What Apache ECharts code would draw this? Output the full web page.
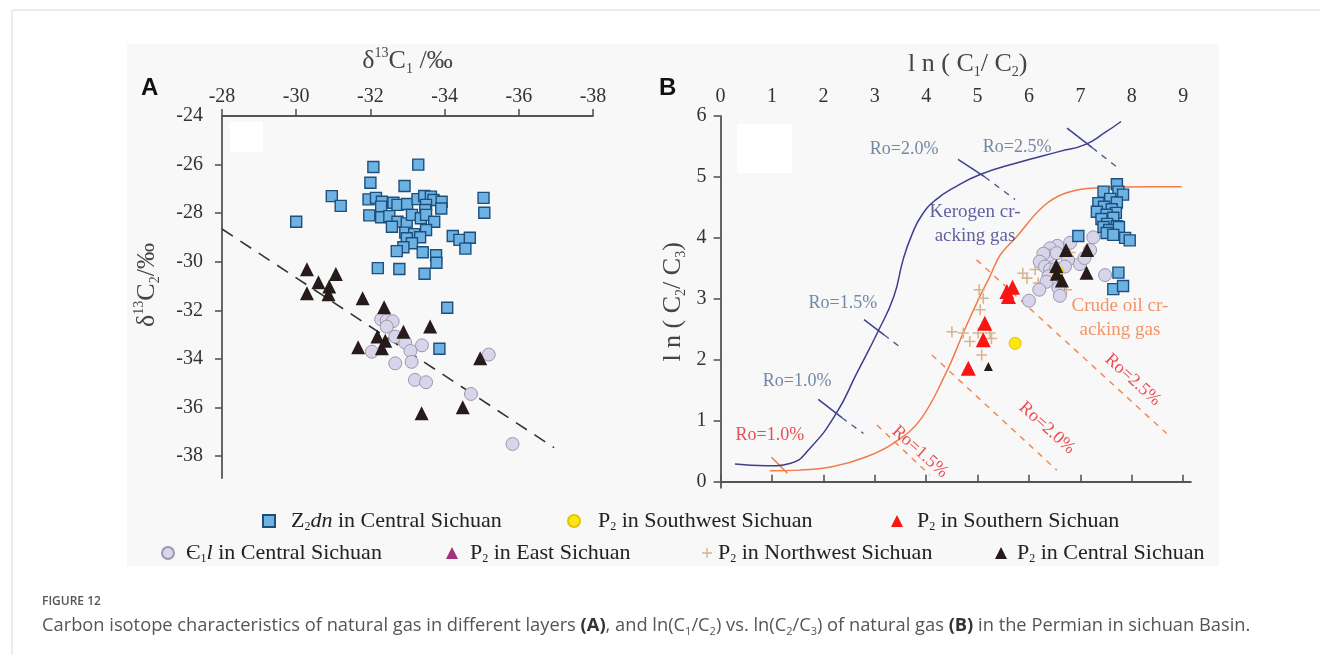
<!DOCTYPE html>
<html>
<head>
<meta charset="utf-8">
<title>Figure 12</title>
<script src="https://cdn.jsdelivr.net/npm/echarts@6/dist/echarts.min.js"></script>
<style>
  html, body { margin: 0; padding: 0; background: #fff; }
  #chart { width: 1320px; height: 655px; }
</style>
</head>
<body>
<div id="chart"></div>
<script>
// ---------- panel A : d13C1 (x) vs d13C2 (y) ----------
const aYTicks = [-24, -26, -28, -30, -32, -34, -36, -38];

const aZ2dn = [
  [-30.0, -28.35], [-30.96, -27.3], [-31.2, -27.7], [-32.08, -26.1], [-32.0, -26.75],
  [-31.95, -27.43], [-32.15, -27.37], [-31.97, -28.09], [-32.2, -30.26], [-33.29, -26.0],
  [-32.92, -26.88], [-32.31, -27.53], [-32.29, -27.73], [-32.62, -27.57], [-32.73, -27.66],
  [-32.99, -27.62], [-33.27, -27.42], [-33.45, -27.29], [-33.63, -27.32], [-33.7, -27.46],
  [-33.92, -27.53], [-33.91, -27.81], [-33.5, -27.66], [-33.48, -27.87], [-35.05, -27.37],
  [-35.07, -27.98], [-32.29, -28.17], [-32.51, -28.12], [-32.73, -28.35], [-32.58, -28.56],
  [-32.98, -28.42], [-33.12, -28.07], [-33.36, -28.21], [-33.5, -28.07], [-33.72, -28.35],
  [-33.5, -28.69], [-32.94, -28.8], [-33.18, -28.86], [-33.34, -28.99], [-32.98, -29.03],
  [-33.12, -29.24], [-32.89, -29.4], [-32.71, -29.56], [-33.41, -29.61], [-33.77, -29.73],
  [-33.78, -30.04], [-34.22, -28.94], [-34.4, -29.1], [-34.68, -29.01], [-34.56, -29.46],
  [-32.78, -30.3], [-33.46, -30.49], [-34.07, -31.89], [-33.86, -33.58]
];
const aCambrian = [
  [-32.29, -32.37], [-32.44, -32.42], [-32.6, -32.45], [-32.44, -32.67], [-32.67, -33.08],
  [-32.94, -33.33], [-33.39, -33.44], [-32.04, -33.7], [-33.08, -33.67], [-32.67, -34.18],
  [-33.11, -34.12], [-33.2, -34.86], [-33.5, -34.96], [-34.71, -35.44], [-35.19, -33.82],
  [-35.83, -37.5]
];
const aP2Central = [
  [-30.29, -30.31], [-30.29, -31.3], [-30.6, -30.84], [-30.89, -31.02], [-30.87, -31.34],
  [-31.07, -30.5], [-31.79, -31.5], [-32.37, -31.87], [-32.89, -32.88], [-33.61, -32.66],
  [-32.19, -33.08], [-32.4, -33.25], [-31.67, -33.52], [-32.31, -33.56], [-34.96, -33.97],
  [-34.49, -35.99], [-33.38, -36.23]
];
const aTrend = [[-28, -28.65], [-36.95, -37.65]];

// ---------- panel B : ln(C1/C2) (x) vs ln(C2/C3) (y) ----------
const bXTicks = [0, 1, 2, 3, 4, 5, 6, 7, 8, 9];
const bYTicks = [0, 1, 2, 3, 4, 5, 6];

const bZ2dn = [
  [7.71, 4.88], [7.45, 4.76], [7.74, 4.76], [7.83, 4.71], [7.58, 4.64], [7.71, 4.58],
  [7.35, 4.57], [7.46, 4.51], [7.61, 4.47], [7.32, 4.43], [7.69, 4.41], [7.51, 4.38],
  [7.41, 4.31], [7.64, 4.33], [7.52, 4.23], [7.71, 4.19], [7.45, 4.18], [7.56, 4.13],
  [7.75, 4.18], [7.51, 4.08], [7.64, 4.05], [7.87, 4.0], [7.96, 3.96], [6.96, 4.03],
  [7.74, 3.43], [7.64, 3.16], [7.83, 3.21]
];
const bCambrian = [
  [7.25, 4.01], [6.8, 3.92], [6.55, 3.87], [6.41, 3.83], [6.39, 3.71], [6.54, 3.75],
  [6.28, 3.74], [6.21, 3.61], [6.31, 3.53], [6.41, 3.48], [6.53, 3.5], [6.38, 3.37],
  [6.34, 3.28], [6.57, 3.18], [6.6, 3.05], [6.2, 3.15], [6.0, 2.97], [6.99, 3.57],
  [7.08, 3.67], [7.19, 3.8], [7.48, 3.39], [6.76, 3.64], [6.7, 3.53]
];
const bP2Central = [[6.72, 3.8], [7.13, 3.8], [6.53, 3.54], [6.54, 3.41], [6.64, 3.3], [7.12, 3.43]];
const bP2CentralSmall = [[5.21, 1.89]];
const bP2Southern = [[5.57, 3.12], [5.68, 3.19], [5.6, 3.04], [5.14, 2.6], [5.11, 2.33], [4.82, 1.86]];
const bP2Southwest = [[5.73, 2.27], [6.55, 3.45]];
const bP2East = [];
const bP2Northwest = [
  [5.96, 3.34], [6.12, 3.48], [5.88, 3.42], [6.18, 3.26], [6.8, 3.76], [6.73, 3.15],
  [5.03, 3.15], [5.11, 3.01], [5.05, 2.82], [4.5, 2.46], [4.72, 2.44], [4.85, 2.3],
  [5.01, 2.44], [5.24, 2.44], [5.27, 2.35], [5.08, 2.08]
];

const kerogenCurve = [
  [0.28, 0.29], [0.9, 0.26], [1.35, 0.3], [1.74, 0.55], [2.25, 1.12], [2.65, 1.78],
  [3.06, 2.46], [3.37, 3.04], [3.55, 3.64], [3.72, 4.05], [3.92, 4.38], [4.18, 4.62],
  [4.55, 4.83], [5.05, 5.04], [5.76, 5.23], [6.6, 5.42], [7.09, 5.53], [7.48, 5.73], [7.79, 5.91]
];
const oilCurve = [
  [0.96, 0.18], [1.54, 0.19], [2.19, 0.25], [2.84, 0.41], [3.36, 0.63], [3.88, 1.01],
  [4.4, 1.81], [4.72, 2.44], [5.01, 2.98], [5.24, 3.37], [5.44, 3.72], [5.76, 4.02],
  [6.28, 4.52], [6.73, 4.74], [7.32, 4.82], [8.35, 4.84], [8.97, 4.84]
];
// Ro maturity marks: solid ticks across the curves and their dashed extensions
const kerogenRoTicks = [
  [[1.9, 1.35], [2.36, 1.05]], [[2.79, 2.66], [3.18, 2.41]],
  [[4.62, 5.29], [5.14, 5.0]], [[6.74, 5.8], [7.23, 5.48]]
];
const kerogenRoDash = [
  [[2.36, 1.05], [2.78, 0.79]], [[3.18, 2.41], [3.55, 2.17]],
  [[5.14, 5.0], [5.73, 4.63]], [[7.23, 5.48], [7.73, 5.15]]
];
const oilRoTicks = [[[0.99, 0.4], [1.3, 0.14]]];
const oilRoDash = [
  [[3.04, 0.93], [4.07, 0.11]], [[4.11, 2.08], [6.54, 0.19]], [[4.98, 3.64], [8.68, 0.79]]
];

const kerogenNotes = [['Ro=2.0%', 3.57, 5.45], ['Ro=2.5%', 5.77, 5.48], ['Ro=1.5%', 2.38, 2.92], ['Ro=1.0%', 1.49, 1.64]];
const kerogenName = [['Kerogen cr-', 4.95, 4.43], ['acking gas', 4.95, 4.03]];
const oilName = [['Crude oil cr-', 7.77, 2.88], ['acking gas', 7.77, 2.49]];
const oilStartNote = [['Ro=1.0%', 0.96, 0.77]];
const oilRoNotes = [['Ro=1.5%', 3.88, 0.49], ['Ro=2.0%', 6.35, 0.88], ['Ro=2.5%', 8.02, 1.67]];

// ---------- series names (legend) ----------
const N_Z = 'Z2dn in Central Sichuan';
const N_SW = 'P2 in Southwest Sichuan';
const N_S = 'P2 in Southern Sichuan';
const N_CAM = 'Є1l in Central Sichuan';
const N_E = 'P2 in East Sichuan';
const N_NW = 'P2 in Northwest Sichuan';
const N_PC = 'P2 in Central Sichuan';

const SERIF = 'Liberation Serif';
const PLUS = 'path://M4.3 0h1.4v10h-1.4zM0 4.3h10v1.4h-10z';

const richLegend = {
  [N_Z]: '{t|Z}{s|2}{i|dn}{t| in Central Sichuan}',
  [N_SW]: '{t|P}{s|2}{t| in Southwest Sichuan}',
  [N_S]: '{t|P}{s|2}{t| in Southern Sichuan}',
  [N_CAM]: '{t|Є}{s|1}{i|l}{t| in Central Sichuan}',
  [N_E]: '{t|P}{s|2}{t| in East Sichuan}',
  [N_NW]: '{t|P}{s|2}{t| in Northwest Sichuan}',
  [N_PC]: '{t|P}{s|2}{t| in Central Sichuan}'
};

const styles = {
  [N_Z]: { symbol: 'rect', size: 11, itemStyle: { color: '#6eb1e3', borderColor: '#1d4f7c', borderWidth: 1.4 } },
  [N_SW]: { symbol: 'circle', size: 12, itemStyle: { color: '#ffe512', borderColor: '#e2c400', borderWidth: 1 } },
  [N_S]: { symbol: 'triangle', size: 15, itemStyle: { color: '#fa1414' } },
  [N_CAM]: { symbol: 'circle', size: 13, itemStyle: { color: '#d8d4ea', borderColor: '#9a98ae', borderWidth: 1 } },
  [N_E]: { symbol: 'triangle', size: 13, itemStyle: { color: '#a2307c' } },
  [N_NW]: { symbol: PLUS, size: 11, itemStyle: { color: '#d6b48c' } },
  [N_PC]: { symbol: 'triangle', size: 14, itemStyle: { color: '#261a1a' } }
};

function scatter(name, data, idx, z, size) {
  const s = styles[name];
  return {
    name, type: 'scatter', data, xAxisIndex: idx, yAxisIndex: idx, z: z || 3,
    symbol: s.symbol, symbolSize: size || s.size, itemStyle: Object.assign({ opacity: 1 }, s.itemStyle),
    emphasis: { disabled: true }
  };
}

function segs(list, color, type, width) {
  return {
    type: 'lines', coordinateSystem: 'cartesian2d', xAxisIndex: 1, yAxisIndex: 1, z: 2,
    data: list.map(c => ({ coords: c })),
    lineStyle: { color, type, width: width || 1.4, opacity: 1, dashOffset: 0 },
    silent: true
  };
}

function notes(list, color, size, rotate) {
  return {
    type: 'scatter', xAxisIndex: 1, yAxisIndex: 1, symbolSize: 0, z: 6, silent: true,
    data: list.map(n => ({ value: [n[1], n[2]], text: n[0] })),
    label: {
      show: true, position: 'inside', rotate: rotate || 0,
      formatter: p => p.data.text,
      fontFamily: SERIF, fontSize: size, color
    }
  };
}

const axisLine = { lineStyle: { color: '#555', width: 1.8 } };
const axisTick = { inside: false, length: 7, lineStyle: { color: '#555', width: 1.6 } };
const tickLabel = { fontFamily: SERIF, fontSize: 20, color: '#333' };
const nameRich = {
  t: { fontFamily: SERIF, fontSize: 26, color: '#444', lineHeight: 30 },
  sup: { fontFamily: SERIF, fontSize: 14, color: '#444', verticalAlign: 'top', lineHeight: 14 },
  sub: { fontFamily: SERIF, fontSize: 14, color: '#444', verticalAlign: 'bottom', lineHeight: 13 }
};

const legendSlots = [
  [N_Z, 'rect', 262, 509, 11],
  [N_SW, 'circle', 567, 509, 13],
  [N_S, 'triangle', 891, 509, 9],
  [N_CAM, 'circle', 161, 541, 7],
  [N_E, 'triangle', 446, 541, 7],
  [N_NW, PLUS, 702, 541, 1],
  [N_PC, 'triangle', 995, 541, 5]
];

const chart = echarts.init(document.getElementById('chart'));

const option = {
  animation: false,
  backgroundColor: '#ffffff',
  graphic: [
    { type: 'rect', z: -10, shape: { x: 12, y: 10, width: 1340, height: 700 }, style: { fill: '#fff', stroke: '#d9d9d9', lineWidth: 1 } },
    { type: 'rect', z: -9, shape: { x: 127, y: 44, width: 1092, height: 522 }, style: { fill: '#f8f8f8' } },
    { type: 'rect', z: 1, shape: { x: 230, y: 122, width: 33, height: 30 }, style: { fill: '#ffffff' } },
    { type: 'rect', z: 1, shape: { x: 737, y: 124, width: 55, height: 49 }, style: { fill: '#ffffff' } },
    { type: 'text', x: 141, y: 76, style: { text: 'A', font: 'bold 24px "Liberation Sans"', fill: '#111' } },
    { type: 'text', x: 659, y: 76, style: { text: 'B', font: 'bold 24px "Liberation Sans"', fill: '#111' } },
    { type: 'text', x: 42, y: 596, style: { text: 'FIGURE 12', font: '600 12px "Open Sans"', fill: '#555' } },
    {
      type: 'text', x: 42, y: 615,
      style: {
        text: '{t|Carbon isotope characteristics of natural gas in different layers }{b|(A)}{t|, and ln(C}{s|1}{t|/C}{s|2}{t|) vs. ln(C}{s|2}{t|/C}{s|3}{t|) of natural gas }{b|(B)}{t| in the Permian in sichuan Basin.}',
        rich: {
          t: { fontFamily: 'Open Sans', fontSize: 18.3, fill: '#555', lineHeight: 22 },
          b: { fontFamily: 'Open Sans', fontSize: 18.3, fontWeight: 'bold', fill: '#333', lineHeight: 22 },
          s: { fontFamily: 'Open Sans', fontSize: 11, fill: '#555', verticalAlign: 'bottom', lineHeight: 12 }
        }
      }
    }
  ],
  legend: legendSlots.map(([name, icon, left, top, gap]) => ({
    left, top: top + 1, padding: 0, orient: 'horizontal',
    itemWidth: icon === PLUS ? 10 : 12, itemHeight: icon === PLUS ? 10 : 12,
    selectedMode: false, data: [{ name, icon }],
    formatter: n => richLegend[n],
    textStyle: {
      padding: [0, 0, 0, gap],
      rich: {
        t: { fontFamily: SERIF, fontSize: 22, color: '#222', lineHeight: 24 },
        i: { fontFamily: SERIF, fontSize: 22, fontStyle: 'italic', color: '#222', lineHeight: 24 },
        s: { fontFamily: SERIF, fontSize: 12, color: '#222', verticalAlign: 'bottom', lineHeight: 13 }
      }
    }
  })),
  grid: [
    { left: 222, top: 116, width: 371, height: 362, outerBoundsMode: 'none' },
    { left: 720.6, top: 116, width: 470.3, height: 371.8, outerBoundsMode: 'none' }
  ],
  xAxis: [
    {
      gridIndex: 0, type: 'value', position: 'top', inverse: true, min: -38, max: -28, interval: 2,
      name: '{t|δ}{sup|13}{t|C}{sub|1}{t| /‰}', nameLocation: 'middle', nameGap: 40,
      nameTextStyle: { rich: nameRich },
      axisLine, axisTick, axisLabel: Object.assign({ margin: 9 }, tickLabel), splitLine: { show: false }
    },
    {
      gridIndex: 1, type: 'value', position: 'top', min: 0, max: 9.15,
      name: '{t|l n ( C}{sub|1}{t|/ C}{sub|2}{t|)}', nameLocation: 'middle', nameGap: 37,
      nameTextStyle: { rich: nameRich, padding: [0, 0, 0, 24] },
      axisLine, axisTick: Object.assign({ customValues: bXTicks }, axisTick),
      axisLabel: Object.assign({ margin: 9, customValues: bXTicks }, tickLabel), splitLine: { show: false }
    }
  ],
  yAxis: [
    {
      gridIndex: 0, type: 'value', min: -38.9, max: -24,
      name: '{t|δ}{sup|13}{t|C}{sub|2}{t|/‰}', nameLocation: 'middle', nameRotate: 90, nameGap: 60,
      nameTextStyle: { rich: nameRich, padding: [0, 0, 0, 24] },
      axisLine, axisTick: Object.assign({ customValues: aYTicks.slice(1) }, axisTick),
      axisLabel: Object.assign({ margin: 19, customValues: aYTicks }, tickLabel), splitLine: { show: false }
    },
    {
      gridIndex: 1, type: 'value', min: -0.1, max: 6,
      name: '{t|l n ( C}{sub|2}{t|/ C}{sub|3}{t|)}', nameLocation: 'middle', nameRotate: 90, nameGap: 32,
      nameTextStyle: { rich: nameRich },
      axisLine, axisTick: Object.assign({ customValues: bYTicks }, axisTick),
      axisLabel: Object.assign({ margin: 14, customValues: bYTicks }, tickLabel), splitLine: { show: false }
    }
  ],
  series: [
    // panel A
    {
      type: 'line', xAxisIndex: 0, yAxisIndex: 0, data: aTrend, symbol: 'none', z: 2, silent: true,
      lineStyle: { color: '#333', width: 1.6, type: [13, 9] }
    },
    scatter(N_CAM, aCambrian, 0, 3),
    scatter(N_Z, aZ2dn, 0, 4),
    scatter(N_PC, aP2Central, 0, 5),
    // panel B
    {
      type: 'line', xAxisIndex: 1, yAxisIndex: 1, data: kerogenCurve, symbol: 'none', smooth: 0.5, z: 2, silent: true,
      lineStyle: { color: '#3d3f8e', width: 1.5 }
    },
    {
      type: 'line', xAxisIndex: 1, yAxisIndex: 1, data: oilCurve, symbol: 'none', smooth: 0.4, z: 2, silent: true,
      lineStyle: { color: '#f07c48', width: 1.5 }
    },
    segs(kerogenRoTicks, '#3d3f8e', 'solid', 1.5),
    segs(kerogenRoDash, '#4d5c94', [6, 6], 1.4),
    segs(oilRoTicks, '#f07c48', 'solid', 1.5),
    segs(oilRoDash, '#f08a50', [6, 6], 1.5),
    scatter(N_NW, bP2Northwest, 1, 3),
    scatter(N_CAM, bCambrian, 1, 3),
    scatter(N_SW, bP2Southwest, 1, 3),
    scatter(N_Z, bZ2dn, 1, 4),
    scatter(N_S, bP2Southern, 1, 5),
    scatter(N_PC, bP2Central, 1, 5),
    scatter(N_PC, bP2CentralSmall, 1, 5, 9),
    scatter(N_E, bP2East, 1, 5),
    notes(kerogenNotes, '#4f6c92', 18),
    notes(kerogenName, '#3b3a88', 19),
    notes(oilName, '#ef7a45', 19),
    notes(oilStartNote, '#e5222a', 18),
    notes(oilRoNotes, '#e5222a', 18, -42)
  ]
};

chart.setOption(option);
window.addEventListener('resize', () => chart.resize());
</script>
</body>
</html>
